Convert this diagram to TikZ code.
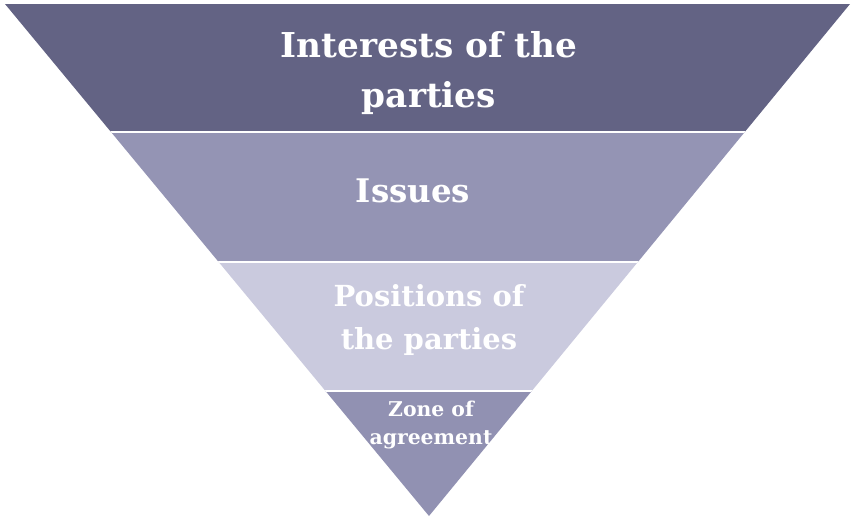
\documentclass[tikz,border=0pt]{standalone}
\usepackage{fontspec}
\setmainfont{DejaVu Serif}
\definecolor{bandA}{RGB}{99,99,132}
\definecolor{bandB}{RGB}{148,148,180}
\definecolor{bandC}{RGB}{202,202,222}
\definecolor{bandD}{RGB}{145,145,178}
\tikzset{
  lbl/.style={text=white,font=\bfseries,align=center,inner sep=0pt}
}
\begin{document}
\begin{tikzpicture}[x=0.02cm,y=-0.02cm]
\useasboundingbox(0,0) rectangle (852,518);
\coordinate (tl) at (5,4);
\coordinate (tr) at (850,4);
\coordinate (apex) at (429,516);
%
\begin{scope}
\clip (tl)--(tr)--(apex)--cycle;
\fill[bandA](0,0) rectangle (852,132);
\fill[bandB](0,132) rectangle (852,262);
\fill[bandC](0,262) rectangle (852,391);
\fill[bandD](0,391) rectangle (852,518);
\foreach \y in {132,262,391}
  \draw[white,line width=1.1pt](0,\y)--(852,\y);
\end{scope}
%text
\node[lbl,font=\bfseries\fontsize{19.5}{28.5}\selectfont] (interests) at (429,73) {Interests of the\\parties};
\node[lbl,font=\bfseries\fontsize{18.5}{24}\selectfont] (issues) at (413,191) {Issues};
\node[lbl,font=\bfseries\fontsize{16.5}{25}\selectfont] (positions) at (429,320) {Positions of\\the parties};
\node[lbl,font=\bfseries\fontsize{11.6}{16}\selectfont] (zone) at (431,425) {Zone of\\agreement};
\end{tikzpicture}
\end{document}
